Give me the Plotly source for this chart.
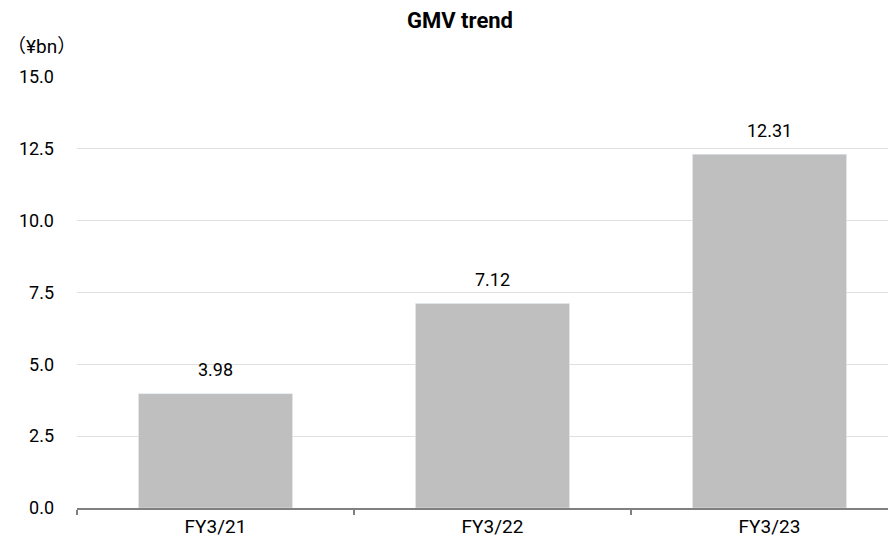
import plotly.graph_objects as go

categories = ["FY3/21", "FY3/22", "FY3/23"]
gmv = [3.98, 7.12, 12.31]
labels = ["3.98", "7.12", "12.31"]
y_ticks = [0, 2.5, 5.0, 7.5, 10.0, 12.5, 15.0]

FONT = "Roboto, Noto Sans CJK JP"

fig = go.Figure()
fig.add_trace(go.Bar(
    x=categories, y=gmv, marker_color="#bfbfbf", width=0.556,
    hoverinfo="skip",
))

for c, v, t in zip(categories, gmv, labels):
    fig.add_annotation(x=c, y=v, text=t, showarrow=False, yanchor="middle",
                       yshift=24, font=dict(size=18, color="#000000", family=FONT))

fig.add_annotation(x=-0.088, xref="paper", y=1.0, yref="paper", text="（¥bn）",
                   showarrow=False, xanchor="left", yanchor="middle", yshift=31,
                   font=dict(size=19, color="#000000", family=FONT))

fig.update_layout(
    width=888, height=534,
    margin=dict(l=69, r=0, t=69, b=34),
    paper_bgcolor="white", plot_bgcolor="white",
    showlegend=False,
    font=dict(family=FONT, size=18, color="#000000"),
    title=dict(text="<b>GMV trend</b>", x=(452 / 888), xanchor="center", y=1 - (12 / 534),
               yanchor="middle", font=dict(size=22, family=FONT, color="#000000")),
    xaxis=dict(range=[-0.5, -0.5 + 819 / 277], showline=True, linecolor="#808080",
               linewidth=2, ticks="outside", tickson="boundaries", ticklen=5,
               tickcolor="#808080", tickwidth=2, showgrid=False, fixedrange=True,
               tickfont=dict(size=19, family=FONT)),
    yaxis=dict(range=[0, 15], tickvals=y_ticks, tickformat=".1f", showgrid=True,
               gridcolor="#e0e0e0", gridwidth=1, zeroline=False, showline=False,
               ticks="", ticklabelstandoff=22, tickfont=dict(size=18, family=FONT)),
)

fig.write_html("out.html")
